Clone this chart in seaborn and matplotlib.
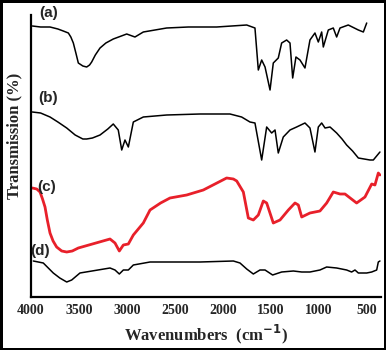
import seaborn as sns
import matplotlib.pyplot as plt
import pandas as pd
import numpy as np
from matplotlib.ticker import MultipleLocator

# spectra (wavenumber, relative transmission with offset)
wn_a = [3986, 3900, 3802, 3720, 3664, 3611, 3585, 3559, 3530, 3507, 3460, 3420, 3390, 3368,
        3330, 3281, 3220, 3143, 3003, 2917, 2830, 2587,
        2361, 2066, 1753, 1667, 1632, 1597, 1562, 1510, 1476, 1424, 1389, 1337, 1302, 1274,
        1240, 1198, 1146, 1094, 1042, 1007, 972, 955, 903, 851, 816, 781, 695, 590, 538, 503]
tr_a = [271, 270, 270, 268, 266, 264, 260, 254, 243, 234, 231, 230, 232, 235,
        242, 249, 254, 258, 263, 260, 265, 269,
        270, 270, 272, 269, 227, 237, 230, 207, 234, 239, 254, 257, 254, 219,
        240, 237, 229, 257, 264, 255, 265, 250, 267, 269, 260, 269, 272, 267, 265, 274]

wn_b = [3986, 3900, 3802, 3720, 3628, 3540, 3460, 3420, 3360, 3281, 3200, 3143, 3091, 3055,
        3021, 2986, 2934, 2830, 2587, 2240,
        1927, 1806, 1719, 1667, 1597, 1545, 1493, 1458, 1424, 1372, 1302, 1233, 1146, 1094,
        1042, 1007, 972, 937, 885, 816, 760, 712, 650, 590, 469, 434, 365]
tr_b = [185, 184, 180, 175, 169, 162, 158, 158, 159, 162, 168, 173, 167, 147,
        157, 150, 175, 180, 182, 183,
        183, 180, 175, 174, 137, 170, 164, 167, 144, 160, 167, 170, 174, 169,
        145, 170, 174, 169, 170, 164, 158, 152, 146, 139, 137, 137, 145]

wn_c = [3986, 3940, 3906, 3880, 3854, 3830, 3802, 3770, 3733, 3680, 3628, 3570, 3507, 3177,
        3125, 3080, 3038, 2986, 2934, 2830,
        2760, 2650, 2552, 2378, 2205, 1962, 1892, 1857, 1788, 1736, 1684, 1632, 1580, 1545, 1476,
        1406, 1319, 1250, 1215, 1180, 1094, 990, 920, 851, 781, 729, 608, 521, 451, 417, 382, 365]
tr_c = [109, 108, 105, 98, 90, 77, 64, 56, 50, 46, 45, 46, 49, 58,
        54, 46, 52, 53, 62, 74,
        87, 94, 99, 102, 107, 119, 118, 116, 105, 79, 77, 82, 96, 94, 74,
        77, 87, 94, 92, 80, 84, 86, 94, 105, 103, 103, 94, 100, 113, 112, 124, 122]

wn_d = [3976, 3872, 3820, 3768, 3700, 3628, 3576, 3490, 3177, 3125, 3080, 3038, 2986, 2934,
        2760, 2240,
        1892, 1823, 1753, 1684, 1615, 1562, 1483, 1389, 1267, 1180, 1094, 990, 920, 816,
        712, 660, 625, 590, 503, 451, 399, 382, 365]
tr_d = [36, 34, 29, 24, 19, 15, 17, 24, 29, 27, 23, 27, 27, 32,
        35, 35,
        36, 34, 28, 23, 27, 27, 22, 25, 26, 25, 25, 27, 30, 29,
        27, 25, 27, 24, 24, 25, 27, 35, 36]

labels = ['(a)', '(b)', '(c)', '(d)']
label_pos = [(3820, 284), (3820, 199), (3840, 110), (3910, 46)]

df = pd.concat([
    pd.DataFrame({'wn': wn_a, 'T': tr_a, 's': 'a'}),
    pd.DataFrame({'wn': wn_b, 'T': tr_b, 's': 'b'}),
    pd.DataFrame({'wn': wn_c, 'T': tr_c, 's': 'c'}),
    pd.DataFrame({'wn': wn_d, 'T': tr_d, 's': 'd'}),
])

sns.set_style('white')
fig = plt.figure(figsize=(3.86, 3.5), dpi=100)
fig.patch.set_edgecolor('black')
fig.patch.set_linewidth(2.5)
ax = fig.add_axes([31/386, 53/350, 350/386, 282/350])

colors = {'a': 'black', 'b': 'black', 'c': '#e8202a', 'd': 'black'}
widths = {'a': 1.1, 'b': 1.1, 'c': 2.0, 'd': 1.1}
for s in ['a', 'b', 'c', 'd']:
    sns.lineplot(data=df[df.s == s], x='wn', y='T', estimator=None, sort=False,
                 color=colors[s], lw=widths[s], ax=ax)

for lab, (x, y) in zip(labels, label_pos):
    ax.text(x, y, lab, fontsize=11, fontweight='bold', family='Liberation Sans',
            ha='center', va='center')

ax.set_xlim(4000, 354)
ax.set_ylim(0, 282)
ax.xaxis.set_major_locator(MultipleLocator(500))
ax.xaxis.set_minor_locator(MultipleLocator(250))
ax.set_yticks(np.arange(0, 270, 21.3))
ax.set_yticklabels([])
ax.tick_params(axis='x', which='major', direction='in', length=4, width=1.2,
               labelsize=10, pad=5)
ax.tick_params(axis='x', which='minor', direction='in', length=2.5, width=1)
ax.tick_params(axis='y', direction='out', length=2, width=1)
for t in ax.get_xticklabels():
    t.set_fontfamily('Liberation Serif')
    t.set_fontweight('bold')

for side in ['top', 'right']:
    ax.spines[side].set_visible(False)
for side in ['left', 'bottom']:
    ax.spines[side].set_color('black')
    ax.spines[side].set_linewidth(1.6)

ax.set_xlabel('Wavenumbers  (cm$^{\\mathbf{-1}}$)', fontsize=12, fontweight='bold',
              family='Liberation Serif', labelpad=4)
ax.set_ylabel('Transmission (%)', fontsize=12, fontweight='bold',
              family='Liberation Serif')
ax.yaxis.set_label_coords(-0.025, 0.57)

fig.savefig('out.png', dpi=100, edgecolor=fig.get_edgecolor())
